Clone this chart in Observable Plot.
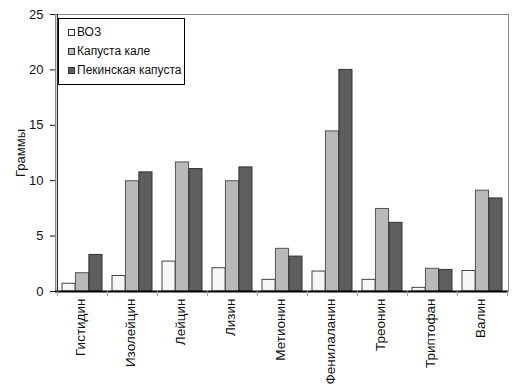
<!DOCTYPE html>
<html>
<head>
<meta charset="utf-8">
<script src="https://cdn.jsdelivr.net/npm/d3@7"></script>
<script src="https://cdn.jsdelivr.net/npm/@observablehq/plot@0.6"></script>
<style>
  body { margin: 0; background: #fff; }
  #wrap { position: relative; width: 522px; height: 387px; font-family: "Liberation Sans", Arial, sans-serif; }
  #legend { position: absolute; left: 58px; top: 18px; width: 116px; height: 61px; border: 1px solid #000; background: #fff; padding: 4px 0 0 9px; box-sizing: content-box; }
  #legend .row { height: 19px; line-height: 19px; font-size: 12px; color: #111; display: flex; align-items: center; white-space: nowrap; }
  #legend .sw { width: 5px; height: 5px; border: 1px solid #333; margin-right: 2px; }
</style>
</head>
<body>
<div id="wrap"></div>
<script>
const categories = ["Гистидин", "Изолейцин", "Лейцин", "Лизин", "Метионин", "Фенилаланин", "Треонин", "Триптофан", "Валин"];
const seriesNames = ["ВОЗ", "Капуста кале", "Пекинская капуста"];
const voz = [0.7, 1.4, 2.7, 2.1, 1.05, 1.8, 1.05, 0.33, 1.85];
const kale = [1.65, 9.95, 11.65, 9.95, 3.85, 14.45, 7.45, 2.05, 9.1];
const peking = [3.3, 10.75, 11.05, 11.2, 3.15, 20.0, 6.2, 1.95, 8.4];
const yTicks = [0, 5, 10, 15, 20, 25];
const fills = ["#f7f7f7", "#b9b9b9", "#5e5e5e"];
const strokes = ["#444", "#555", "#333"];

const seriesValues = [voz, kale, peking];
const rows = categories.map((c, i) => ({cat: c, v0: voz[i], v1: kale[i], v2: peking[i]}));

const W = 522, H = 387, mL = 55, mR = 14, mT = 14, mB = 96;
const band = (W - mL - mR) / categories.length;
const outer = 5;
const bw = (band - 2 * outer) / 3;

const barMarks = seriesValues.map((_, s) => Plot.barY(rows, {
  x: "cat", y: "v" + s, fill: fills[s], stroke: strokes[s], strokeWidth: 1,
  insetLeft: outer + s * bw, insetRight: outer + (2 - s) * bw
}));

const chart = Plot.plot({
  width: W, height: H,
  marginLeft: mL, marginRight: mR, marginTop: mT, marginBottom: mB,
  style: {fontFamily: "Liberation Sans, Arial, sans-serif", fontSize: "13px", background: "#fff", color: "#111"},
  x: {domain: categories, padding: 0},
  y: {domain: [0, 25]},
  marks: [
    Plot.frame({stroke: "#888", strokeWidth: 1}),
    ...barMarks,
    Plot.axisX({tickRotate: -90, tickSize: 0, tickPadding: 7, label: null, fontSize: 13.5, dx: -2}),
    Plot.axisY({ticks: yTicks, tickSize: 5, tickPadding: 7, label: "Граммы", labelArrow: "none", labelAnchor: "center", labelOffset: 40, fontSize: 13}),
    Plot.ruleY([0], {stroke: "#000", strokeWidth: 2}),
    Plot.ruleX([categories[0]], {x: d => d, y1: 0, y2: 25, stroke: "#000", strokeWidth: 1, dx: -band / 2}),
    Plot.ruleX(categories, {x: d => d, y1: 0, y2: -0.45, stroke: "#999", strokeWidth: 1, dx: -band / 2}),
    Plot.ruleX([categories[categories.length - 1]], {x: d => d, y1: 0, y2: -0.45, stroke: "#999", strokeWidth: 1, dx: band / 2})
  ]
});

const wrap = document.getElementById("wrap");
wrap.appendChild(chart);

const legend = document.createElement("div");
legend.id = "legend";
seriesNames.forEach((name, s) => {
  const row = document.createElement("div");
  row.className = "row";
  const sw = document.createElement("span");
  sw.className = "sw";
  sw.style.background = fills[s];
  row.appendChild(sw);
  row.appendChild(document.createTextNode(name));
  legend.appendChild(row);
});
wrap.appendChild(legend);
</script>
</body>
</html>
